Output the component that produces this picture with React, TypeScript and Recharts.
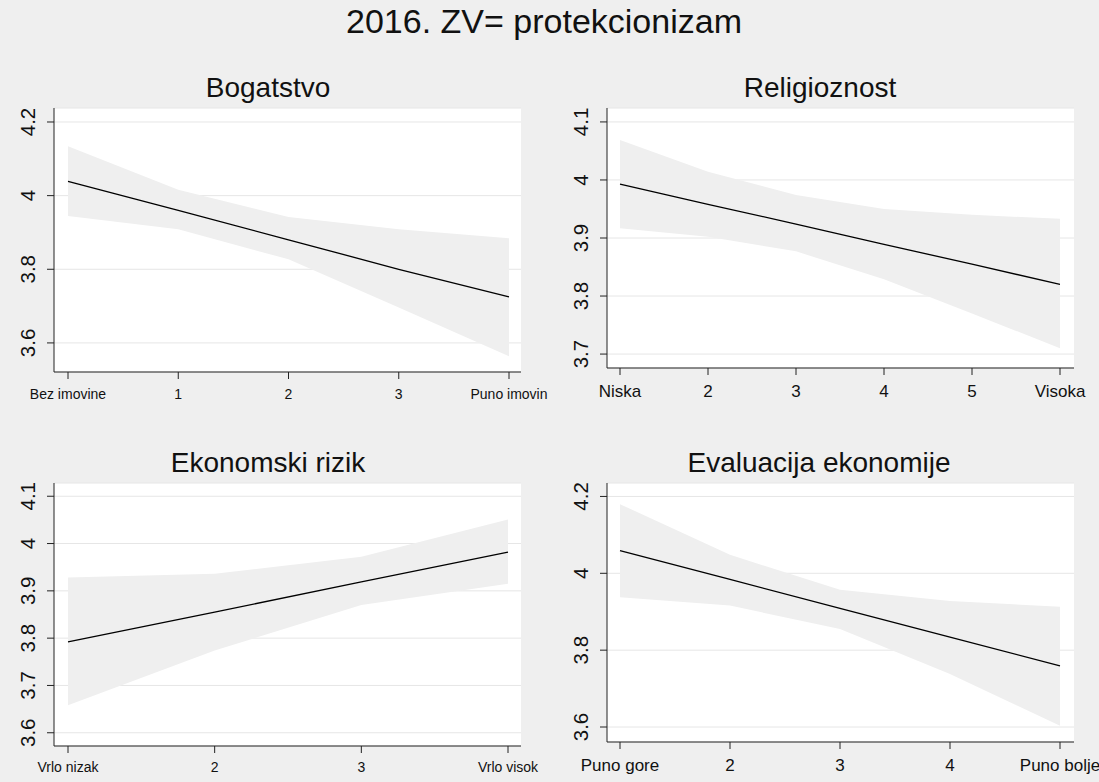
import React from "react";
import {
  ComposedChart,
  Area,
  Line,
  XAxis,
  YAxis,
  CartesianGrid,
} from "recharts";

// --- data (predicted value with 95% CI) ---
const bogatstvoX = [0, 1, 2, 3, 4];
const bogatstvoLabels = ["Bez imovine", "1", "2", "3", "Puno imovin"];
const bogatstvoFit = [4.039, 3.96, 3.88, 3.8, 3.725];
const bogatstvoLo = [3.945, 3.909, 3.827, 3.696, 3.564];
const bogatstvoHi = [4.134, 4.016, 3.942, 3.909, 3.884];
const bogatstvoTicks = [3.6, 3.8, 4, 4.2];

const religijaX = [1, 2, 3, 4, 5, 6];
const religijaLabels = ["Niska", "2", "3", "4", "5", "Visoka"];
const religijaFit = [3.993, 3.958, 3.924, 3.889, 3.855, 3.82];
const religijaLo = [3.917, 3.902, 3.877, 3.829, 3.77, 3.71];
const religijaHi = [4.069, 4.014, 3.974, 3.95, 3.94, 3.933];
const religijaTicks = [3.7, 3.8, 3.9, 4, 4.1];

const rizikX = [1, 2, 3, 4];
const rizikLabels = ["Vrlo nizak", "2", "3", "Vrlo visok"];
const rizikFit = [3.792, 3.855, 3.919, 3.982];
const rizikLo = [3.658, 3.774, 3.87, 3.915];
const rizikHi = [3.928, 3.936, 3.972, 4.051];
const rizikTicks = [3.6, 3.7, 3.8, 3.9, 4, 4.1];

const evalX = [1, 2, 3, 4, 5];
const evalLabels = ["Puno gore", "2", "3", "4", "Puno bolje"];
const evalFit = [4.059, 3.984, 3.909, 3.834, 3.759];
const evalLo = [3.938, 3.916, 3.855, 3.738, 3.603];
const evalHi = [4.18, 4.048, 3.957, 3.928, 3.913];
const evalTicks = [3.6, 3.8, 4, 4.2];

const FONT = "'Liberation Sans', Arial, sans-serif";
const BG = "#efefef";
const BAND = "#efefef";
const INK = "#111";

const build = (xs: number[], fit: number[], lo: number[], hi: number[]) =>
  xs.map((x, i) => ({ x, fit: fit[i], ci: [lo[i], hi[i]] }));

const RotTick = (props: any) => {
  const { x, y, payload } = props;
  return (
    <text
      x={x}
      y={y}
      transform={`rotate(-90 ${x} ${y})`}
      textAnchor="middle"
      fontSize={20.5}
      fontFamily={FONT}
      fill={INK}
    >
      {String(payload.value)}
    </text>
  );
};

type PanelProps = {
  left: number;
  plot: { x0: number; x1: number; y0: number; y1: number };
  xs: number[];
  labels: string[];
  fit: number[];
  lo: number[];
  hi: number[];
  yDomain: [number, number];
  yTicks: number[];
  pad: { left: number; right: number };
  xFont: number;
  xMargin: number;
};

function Panel(p: PanelProps) {
  const top = p.plot.y0 - 5;
  const width = p.plot.x1 + 40 - p.left;
  const height = p.plot.y1 - p.plot.y0 + 5 + 36;
  const data = build(p.xs, p.fit, p.lo, p.hi);
  return (
    <div style={{ position: "absolute", left: p.left, top }}>
      <ComposedChart
        width={width}
        height={height}
        data={data}
        margin={{ top: 5, right: 40, bottom: 1, left: 0 }}
      >
        <CartesianGrid
          vertical={false}
          fill="#ffffff"
          stroke="#e6e6e6"
          strokeWidth={1}
        />
        <XAxis
          dataKey="x"
          type="number"
          domain={[p.xs[0], p.xs[p.xs.length - 1]]}
          ticks={p.xs}
          padding={p.pad}
          height={35}
          tickSize={7}
          tickMargin={p.xMargin}
          tickFormatter={(v: number) => p.labels[p.xs.indexOf(v)] ?? String(v)}
          tick={{ fontSize: p.xFont, fontFamily: FONT, fill: INK }}
          axisLine={{ stroke: "#222" }}
          tickLine={{ stroke: "#222" }}
          interval={0}
        />
        <YAxis
          type="number"
          domain={p.yDomain}
          ticks={p.yTicks}
          allowDataOverflow
          width={p.plot.x0 - p.left}
          tickSize={7}
          tickMargin={12}
          tick={<RotTick />}
          axisLine={{ stroke: "#222" }}
          tickLine={{ stroke: "#222" }}
          interval={0}
        />
        <Area
          dataKey="ci"
          type="linear"
          stroke="none"
          fill={BAND}
          fillOpacity={1}
          isAnimationActive={false}
        />
        <Line
          dataKey="fit"
          type="linear"
          stroke="#000"
          strokeWidth={1.3}
          dot={false}
          isAnimationActive={false}
        />
      </ComposedChart>
    </div>
  );
}

export default function App() {
  return (
    <div
      style={{
        position: "absolute",
        left: 0,
        top: 0,
        width: 1099,
        height: 782,
        background: BG,
        overflow: "hidden",
      }}
    >
      <svg
        width={1099}
        height={782}
        style={{ position: "absolute", left: 0, top: 0 }}
      >
        <text x={544} y={33} textAnchor="middle" fontSize={34} fontFamily={FONT} fill={INK}>
          2016. ZV= protekcionizam
        </text>
        <text x={268} y={97} textAnchor="middle" fontSize={28} fontFamily={FONT} fill={INK}>
          Bogatstvo
        </text>
        <text x={820} y={97} textAnchor="middle" fontSize={28} fontFamily={FONT} fill={INK}>
          Religioznost
        </text>
        <text x={268} y={472} textAnchor="middle" fontSize={28} fontFamily={FONT} fill={INK}>
          Ekonomski rizik
        </text>
        <text x={819} y={472} textAnchor="middle" fontSize={28} fontFamily={FONT} fill={INK}>
          Evaluacija ekonomije
        </text>
      </svg>

      <Panel
        left={0}
        plot={{ x0: 54, x1: 521, y0: 108, y1: 372 }}
        xs={bogatstvoX}
        labels={bogatstvoLabels}
        fit={bogatstvoFit}
        lo={bogatstvoLo}
        hi={bogatstvoHi}
        yDomain={[3.521, 4.238]}
        yTicks={bogatstvoTicks}
        pad={{ left: 14, right: 12 }}
        xFont={14}
        xMargin={10}
      />
      <Panel
        left={550}
        plot={{ x0: 607, x1: 1074, y0: 108, y1: 368 }}
        xs={religijaX}
        labels={religijaLabels}
        fit={religijaFit}
        lo={religijaLo}
        hi={religijaHi}
        yDomain={[3.676, 4.124]}
        yTicks={religijaTicks}
        pad={{ left: 13, right: 14 }}
        xFont={17}
        xMargin={10}
      />
      <Panel
        left={0}
        plot={{ x0: 54, x1: 521, y0: 483, y1: 746 }}
        xs={rizikX}
        labels={rizikLabels}
        fit={rizikFit}
        lo={rizikLo}
        hi={rizikHi}
        yDomain={[3.572, 4.128]}
        yTicks={rizikTicks}
        pad={{ left: 14, right: 13 }}
        xFont={14}
        xMargin={9}
      />
      <Panel
        left={550}
        plot={{ x0: 607, x1: 1074, y0: 483, y1: 742 }}
        xs={evalX}
        labels={evalLabels}
        fit={evalFit}
        lo={evalLo}
        hi={evalHi}
        yDomain={[3.561, 4.235]}
        yTicks={evalTicks}
        pad={{ left: 13, right: 14 }}
        xFont={17}
        xMargin={10}
      />
    </div>
  );
}
